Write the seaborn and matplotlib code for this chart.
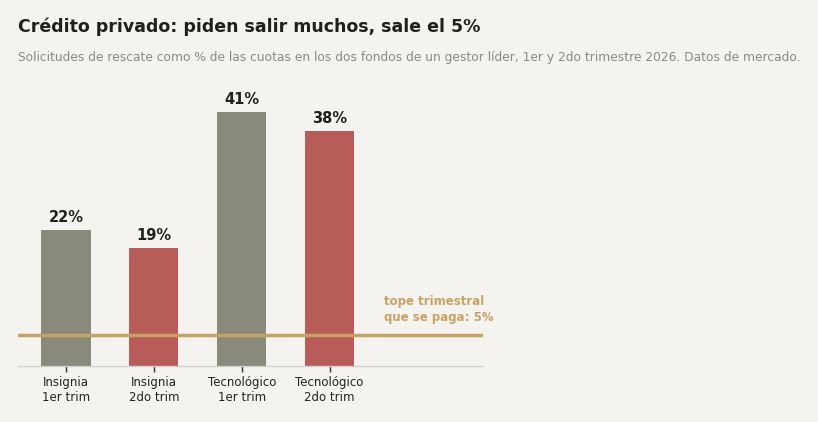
import numpy as np
import pandas as pd
import matplotlib.pyplot as plt
import seaborn as sns

# data
categorias = ['Insignia\n1er trim', 'Insignia\n2do trim', 'Tecnológico\n1er trim', 'Tecnológico\n2do trim']
valores = [22, 19, 41, 38]
tope = 5

bg = '#f4f3ef'
colores = ['#8a8a7c', '#b85c5a', '#8a8a7c', '#b85c5a']
oro = '#c8a265'

sns.set_style('white')
plt.rcParams['font.family'] = ['DejaVu Sans']

fig = plt.figure(figsize=(8.18, 4.22), dpi=100, facecolor=bg)
ax = fig.add_axes([0.022, 0.133, 0.568, 0.66], facecolor=bg)

df = pd.DataFrame({'cat': categorias, 'val': valores})
sns.barplot(data=df, x='cat', y='val', hue='cat', palette=colores, legend=False,
            width=0.56, ax=ax, saturation=1, linewidth=0, edgecolor='none')

for i, v in enumerate(valores):
    ax.text(i, v + 0.8, f'{v}%', ha='center', va='bottom', fontsize=10.5,
            fontweight='bold', color='#1f1f1c')

ax.axhline(tope, color=oro, lw=2.5, zorder=3)
ax.text(3.62, tope + 4.1, 'tope trimestral\nque se paga: 5%', color=oro,
        fontsize=8.5, fontweight='bold', ha='left', va='center', linespacing=1.3)

ax.set_xlim(-0.545, 4.74)
ax.set_ylim(0, 45)
ax.set_xlabel('')
ax.set_ylabel('')
ax.set_yticks([])
ax.tick_params(axis='x', bottom=True, length=4, width=1, color='#333333', labelsize=8.5,
               labelcolor='#222222', pad=3)
for s in ['top', 'right', 'left']:
    ax.spines[s].set_visible(False)
ax.spines['bottom'].set_color('#d3d1ca')
ax.spines['bottom'].set_linewidth(1)

fig.text(0.022, 0.937, 'Crédito privado: piden salir muchos, sale el 5%',
         fontsize=12.5, fontweight='bold', color='#1f1f1c', ha='left', va='center')
fig.text(0.022, 0.864, 'Solicitudes de rescate como % de las cuotas en los dos fondos de un gestor líder, '
         '1er y 2do trimestre 2026. Datos de mercado.',
         fontsize=8.8, color='#8a8a84', ha='left', va='center')

fig.savefig('out.png', dpi=100, facecolor=bg)
